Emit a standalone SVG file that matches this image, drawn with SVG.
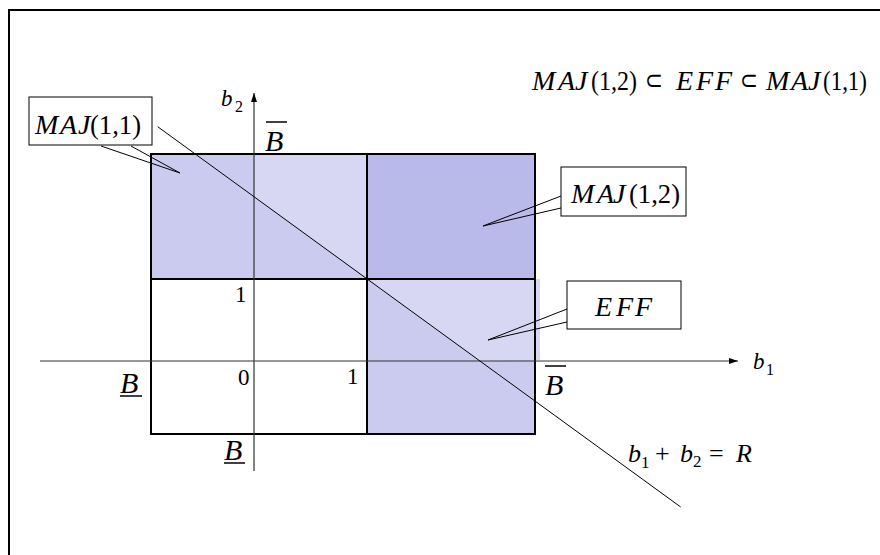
<svg xmlns="http://www.w3.org/2000/svg" width="880" height="555" viewBox="0 0 880 555">
<style>
.t{font-family:"Liberation Serif","Times New Roman",serif;fill:#000}
.i{font-style:italic}
.box{fill:#fff;stroke:#000;stroke-width:1}
.ptr{fill:none;stroke:#000;stroke-width:1}
.grid{fill:none;stroke:#000;stroke-width:2}
.ax{stroke:#333;stroke-width:1.2;fill:none}
.med{fill:#cbcbf0}
.dark{fill:#b9b9ea}
.light{fill:#d7d7f4}
.bar{stroke:#000;stroke-width:1.5}
</style>
<defs>
<marker id="ah" viewBox="0 0 9 6" refX="9" refY="3" markerWidth="9" markerHeight="6" markerUnits="userSpaceOnUse" orient="auto">
<path d="M0,0 L9,3 L0,6 Z" fill="#000"/>
</marker>
</defs>
<rect width="880" height="555" fill="#fff"/>
<path d="M9,555 V10 H880" fill="none" stroke="#000" stroke-width="2"/>

<g id="regions">
<rect class="med" x="151" y="154" width="216" height="125"/>
<rect class="dark" x="367" y="154" width="168" height="125"/>
<rect class="med" x="367" y="279" width="168" height="155"/>
<polygon class="light" points="254,154 367,154 367,279 254,196.7"/>
<polygon class="light" points="367,279 540,279 540,360 480,361"/>
</g>

<g id="grid">
<rect class="grid" x="151" y="154" width="384" height="280"/>
<line class="grid" x1="367" y1="154" x2="367" y2="434"/>
<line class="grid" x1="151" y1="279" x2="535" y2="279"/>
</g>

<g id="axes">
<line class="ax" x1="254" y1="471" x2="254" y2="93" marker-end="url(#ah)"/>
<line class="ax" x1="40" y1="361" x2="738" y2="361" marker-end="url(#ah)"/>
</g>

<g id="connectors">
<line x1="157.7" y1="126.7" x2="680.7" y2="507" stroke="#000" stroke-width="1"/>
<polyline class="ptr" points="101,146 180,173 131,146"/>
<polyline class="ptr" points="561,196 483,226 561,208"/>
<polyline class="ptr" points="567,309 488,340 567,322"/>
</g>

<g id="maj11">
<rect class="box" x="29" y="97" width="123" height="48"/>
<text class="t i" font-size="28" y="134" x="35 60 78">MAJ</text>
<text class="t" font-size="28" y="134" x="90" textLength="51" lengthAdjust="spacingAndGlyphs">(1,1)</text>
</g>

<g id="maj12">
<rect class="box" x="561" y="167" width="125" height="49"/>
<text class="t i" font-size="28" y="203" x="571 597 613">MAJ</text>
<text class="t" font-size="28" y="203" x="629" textLength="51" lengthAdjust="spacingAndGlyphs">(1,2)</text>
</g>

<g id="eff">
<rect class="box" x="567" y="281" width="114" height="48"/>
<text class="t i" font-size="28" y="316" x="595 616 635">EFF</text>
</g>

<g id="formula">
<text class="t i" font-size="28" y="90" x="532 558 575">MAJ</text>
<text class="t" font-size="28" y="90" x="591" textLength="46" lengthAdjust="spacingAndGlyphs">(1,2)</text>
<text class="t" font-size="26" y="89" x="645" textLength="18" lengthAdjust="spacingAndGlyphs">⊂</text>
<text class="t i" font-size="28" y="90" x="676 696 715">EFF</text>
<text class="t" font-size="26" y="89" x="740" textLength="18" lengthAdjust="spacingAndGlyphs">⊂</text>
<text class="t i" font-size="28" y="90" x="766 791 808">MAJ</text>
<text class="t" font-size="28" y="90" x="823" textLength="44" lengthAdjust="spacingAndGlyphs">(1,1)</text>
</g>

<g id="axis-labels">
<text class="t" font-size="23"><tspan class="i" x="221" y="106">b</tspan><tspan font-size="16" x="235" y="112">2</tspan></text>
<text class="t" font-size="23"><tspan class="i" x="753" y="369">b</tspan><tspan font-size="16" x="766" y="375">1</tspan></text>
<text class="t" font-size="26"><tspan class="i" x="628" y="462">b</tspan><tspan font-size="17" x="641" y="468">1</tspan><tspan x="655" y="462">+</tspan><tspan class="i" x="680" y="462">b</tspan><tspan font-size="17" x="693" y="467">2</tspan><tspan x="709" y="462">=</tspan><tspan class="i" x="736" y="462">R</tspan></text>
<text class="t" font-size="23" x="235" y="302">1</text>
<text class="t" font-size="23" x="238" y="385">0</text>
<text class="t" font-size="23" x="347" y="384">1</text>
</g>

<g id="bounds">
<text class="t i" font-size="30" x="265" y="151">B</text>
<line class="bar" x1="266" y1="122" x2="287" y2="122"/>
<text class="t i" font-size="30" x="545" y="395">B</text>
<line class="bar" x1="545" y1="366" x2="566" y2="366"/>
<text class="t i" font-size="30" x="120" y="393">B</text>
<line class="bar" x1="120" y1="396" x2="142" y2="396"/>
<text class="t i" font-size="30" x="224" y="460">B</text>
<line class="bar" x1="224" y1="463" x2="245" y2="463"/>
</g>
</svg>
